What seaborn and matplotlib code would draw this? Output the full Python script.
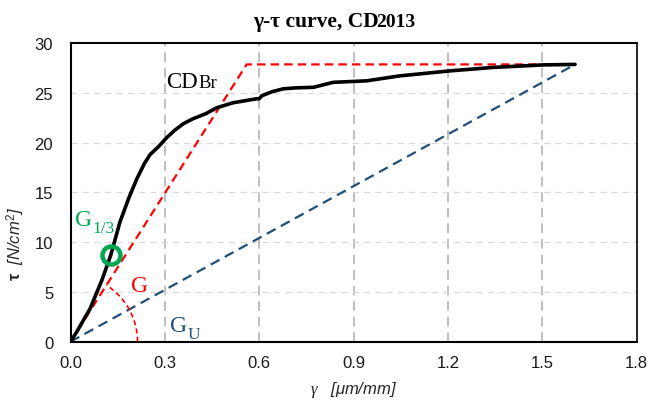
import numpy as np
import matplotlib
matplotlib.use("Agg")
import matplotlib.pyplot as plt
from matplotlib.patches import Arc
import seaborn as sns

# measured shear curve (gamma in um/mm, tau in N/cm2)
gamma = [0, 0.02, 0.04, 0.062, 0.1, 0.128, 0.157, 0.185, 0.21, 0.235, 0.253, 0.28,
         0.306, 0.33, 0.359, 0.39, 0.43, 0.465, 0.517, 0.592, 0.600, 0.608, 0.64,
         0.676, 0.72, 0.772, 0.835, 0.941, 1.047, 1.174, 1.206, 1.344, 1.503, 1.604]
tau = [0, 1.0, 2.1, 3.3, 6.2, 8.7, 12.0, 14.4, 16.3, 17.9, 18.8, 19.6,
       20.5, 21.2, 21.9, 22.4, 22.9, 23.5, 24.0, 24.4, 24.4, 24.7, 25.1,
       25.4, 25.5, 25.55, 26.05, 26.2, 26.7, 27.1, 27.2, 27.55, 27.8, 27.85]

# bilinear idealisation (G) and secant (G_U)
g_line_x = [0, 0.56, 1.604]
g_line_y = [0, 27.85, 27.85]
gu_line_x = [0, 1.604]
gu_line_y = [0, 27.85]

# G_1/3 point
g13_x = [0.128]
g13_y = [8.7]

x_ticks = [0.0, 0.3, 0.6, 0.9, 1.2, 1.5, 1.8]
y_ticks = [0, 5, 10, 15, 20, 25, 30]

sns.set_theme(style="white")
plt.rcParams["font.family"] = ["Liberation Sans", "DejaVu Sans"]
plt.rcParams["mathtext.fontset"] = "custom"
plt.rcParams["mathtext.rm"] = "Liberation Sans"
plt.rcParams["mathtext.it"] = "Liberation Serif:italic"
plt.rcParams["mathtext.bf"] = "Liberation Sans:bold"

red = "#FF0000"
blue = "#1F4E79"
green = "#00A650"

fig = plt.figure(figsize=(6.48, 4.06), dpi=100)
ax = fig.add_axes([0.1088, 0.1559, 0.8738, 0.7357])

# grid
for xv in x_ticks[1:-1]:
    ax.axvline(xv, color="#BFBFBF", lw=1.4, dashes=(5, 3), zorder=0)
for yv in y_ticks[1:-1]:
    ax.axhline(yv, color="#D9D9D9", lw=0.9, dashes=(5, 4), zorder=0)

sns.lineplot(x=gu_line_x, y=gu_line_y, ax=ax, color=blue, lw=1.6,
             linestyle=(0, (4.5, 2.7)), sort=False, zorder=2)
sns.lineplot(x=g_line_x, y=g_line_y, ax=ax, color=red, lw=1.6,
             linestyle=(0, (3.8, 2.3)), sort=False, zorder=3)
sns.lineplot(x=gamma, y=tau, ax=ax, color="black", lw=2.6, sort=False, zorder=4)
ax.plot(g13_x, g13_y, "o", ms=13, mfc="none", mec=green, mew=3.2, zorder=5)

# angle arc for G
ang = np.degrees(np.arctan2(g_line_y[1], g_line_x[1]))
ax.add_patch(Arc((0, 0), 2 * 0.213, 2 * 6.73, theta1=0, theta2=ang,
                 color=red, lw=1.2, ls=(0, (3, 2)), zorder=3))

ax.set_xlim(0, 1.8)
ax.set_ylim(0, 30)
ax.set_xticks(x_ticks)
ax.set_xticklabels([f"{v:.1f}" for v in x_ticks])
ax.set_yticks(y_ticks)
ax.tick_params(axis="both", direction="out", length=4.5, width=1.3,
               color="black", labelsize=12, labelcolor="#1a1a1a")
ax.tick_params(axis="x", pad=5)
ax.tick_params(axis="y", pad=8)
for side in ["left", "bottom", "top", "right"]:
    ax.spines[side].set_color("black")
    ax.spines[side].set_linewidth(1.5)
ax.spines["right"].set_linewidth(1.2)


def label_with_part(x, y, main, part, color, size_main, size_part, dy,
                    trans=None, weight="normal", dx=0.5):
    t = ax.text(x, y, main, color=color, fontsize=size_main,
                family="Liberation Serif", weight=weight, va="baseline",
                transform=trans if trans is not None else ax.transData)
    ax.annotate(part, xy=(1, 0), xycoords=t, xytext=(dx, dy),
                textcoords="offset points", color=color, fontsize=size_part,
                family="Liberation Serif", weight=weight, va="bottom", ha="left")
    return t


label_with_part(0.304, 25.6, "CD", "Br", "black", 16.5, 13.5, 0.5)
label_with_part(0.0143, 11.77, "G", "1/3", green, 17, 12.5, -4.5)
ax.text(0.192, 5.1, "G", color=red, fontsize=17, family="Liberation Serif",
        va="baseline")
label_with_part(0.316, 1.07, "G", "U", blue, 17, 12.5, -4.5)

# title
label_with_part(0.39, 0.934, "γ-τ curve, CD", "2013", "black", 15.5, 14,
                0.3, trans=fig.transFigure, weight="bold", dx=-1.5)

# axis labels
ax.text(0.5, -0.158, r"$\gamma$   [μm/mm]", transform=ax.transAxes,
        ha="center", va="center", fontsize=12, style="italic")
ax.text(-0.097, 0.33, r"$\mathbf{\tau}$  [N/cm$^{2}$]", transform=ax.transAxes,
        ha="center", va="center", fontsize=12, style="italic", rotation=90)

fig.savefig("out.png", dpi=100)
